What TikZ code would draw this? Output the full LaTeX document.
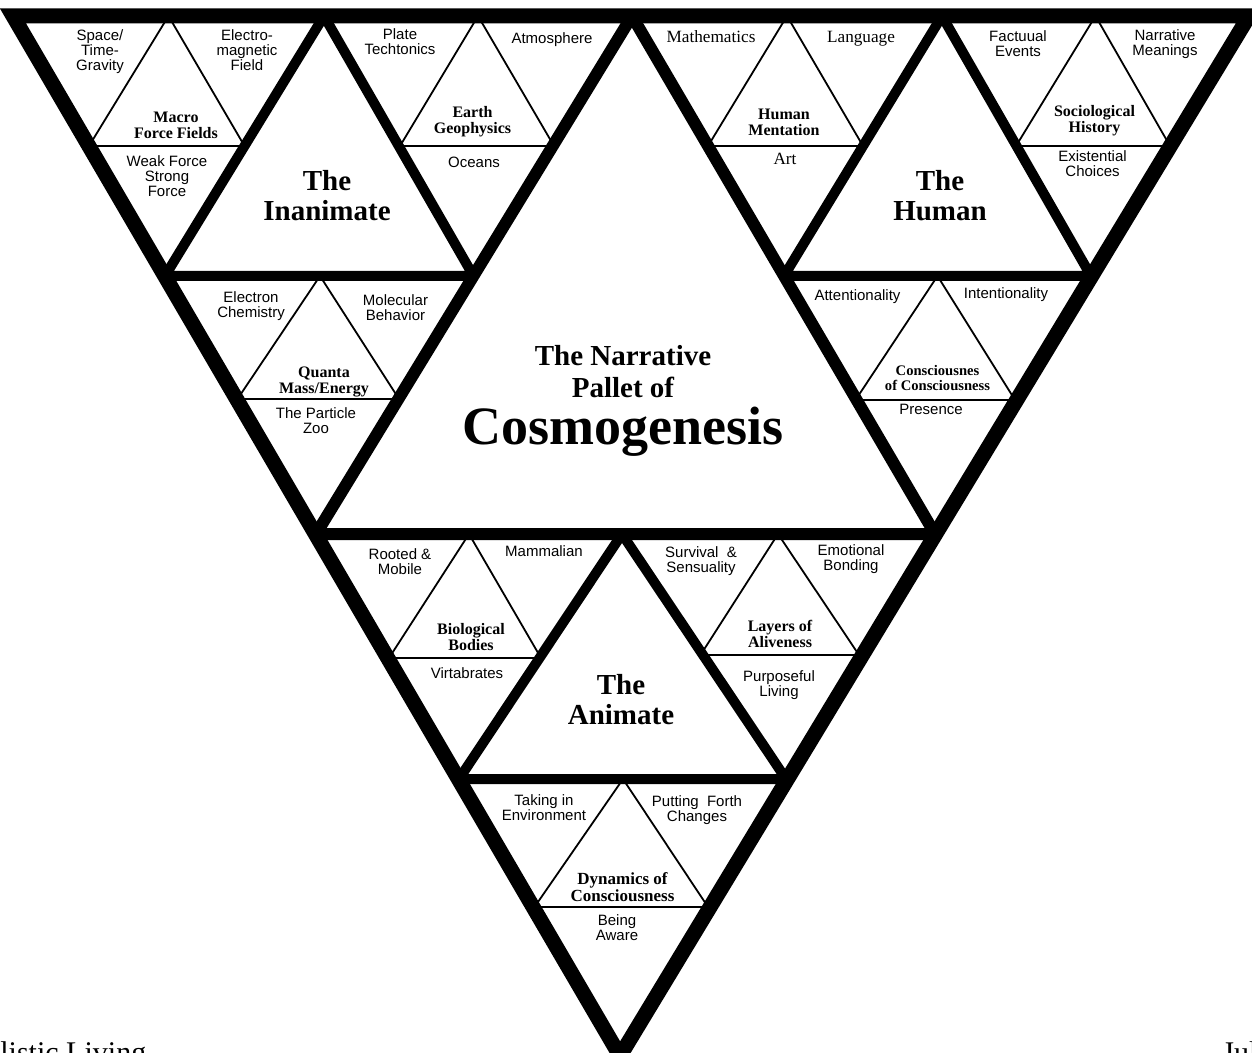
\documentclass[tikz,border=0pt]{standalone}
\usepackage{fontspec}
\setmainfont{Liberation Serif}
\newfontfamily\helv{Liberation Sans}
\usetikzlibrary{positioning}
\tikzset{
  rimline/.style={line width=7.5pt, line join=miter},
  mainline/.style={line width=6pt, line join=round},
  subline/.style={line width=5pt, line join=round},
  fineline/.style={line width=0.9pt, line join=round},
  leaf/.style={font=\helv\fontsize{7.5}{7.5}\selectfont, align=center, inner sep=0pt},
  leafserif/.style={font=\fontsize{8.6}{9}\selectfont, inner sep=0pt, anchor=base},
  hub/.style={font=\bfseries\fontsize{8}{8}\selectfont, align=center, inner sep=0pt},
  realm/.style={font=\bfseries\fontsize{14.5}{15}\selectfont, align=center, inner sep=0pt},
}

\begin{document}
\begin{tikzpicture}[x=0.5pt, y=-0.5pt,
    titletext/.style={font=\bfseries\fontsize{14.5}{16}\selectfont, align=center, inner sep=0pt},
    marginnote/.style={font=\fontsize{15}{15}\selectfont, inner sep=0pt, anchor=base west}]
  \useasboundingbox (0,0) rectangle (1252,1053);
  % fourth level
  \draw[fineline] (168.5,16) -- (89,146) -- (244.5,146) -- cycle;
  \draw[fineline] (478,16) -- (400,146) -- (554,146) -- cycle;
  \draw[fineline] (787,16) -- (708,146) -- (863,146) -- cycle;
  \draw[fineline] (1095.5,16) -- (1016,146) -- (1170,146) -- cycle;
  \draw[fineline] (320,276) -- (237.5,399) -- (399,399) -- cycle;
  \draw[fineline] (937.5,276) -- (855.5,400) -- (1015,400) -- cycle;
  \draw[fineline] (469,534) -- (389,658) -- (541,658) -- cycle;
  \draw[fineline] (778,534) -- (700.5,655) -- (859,655) -- cycle;
  \draw[fineline] (623,779) -- (534.5,907) -- (708,907) -- cycle;
  % third level
  \draw[subline] (324,16) -- (165,276) -- (473.5,276) -- cycle;
  \draw[subline] (942,16) -- (784,276) -- (1091,276) -- cycle;
  \draw[subline] (622,534) -- (459,779) -- (786,779) -- cycle;
  % second level and rim
  \draw[mainline] (632,16) -- (316,534) -- (935,534) -- cycle;
  \draw[rimline] (13,16) -- (1249,16) -- (620,1056) -- cycle;

  % the inanimate
  \node[realm] (inanimate) at (327,196) {The\\Inanimate};
  \node[leaf] (spacetime) at (100,52) {Space/\\Time-\\Gravity};
  \node[leaf] (electro) at (247,50) {Electro-\\magnetic\\Field};
  \node[hub] (macro) at (176,125) {Macro\\Force Fields};
  \node[leaf] (weak) at (167,176) {Weak Force\\Strong\\Force};
  \node[leaf] (plate) at (400,42) {Plate\\Techtonics};
  \node[leaf] (atmos) at (552,40) {Atmosphere};
  \node[hub] (earth) at (472.5,122) {Earth\\Geophysics};
  \node[leaf] (oceans) at (474,162) {Oceans};
  \node[leaf] (electron) at (251,306) {Electron\\Chemistry};
  \node[leaf] (molecular) at (395.5,308) {Molecular\\Behavior};
  \node[hub] (quanta) at (324,382) {Quanta\\Mass/Energy};
  \node[leaf] (particle) at (316,421) {The Particle\\Zoo};

  % the human
  \node[realm] (human) at (940,196) {The\\Human};
  \node[leafserif] (maths) at (711,43) {Mathematics};
  \node[leafserif] (language) at (861,43) {Language};
  \node[hub] (mentation) at (784,122) {Human\\Mentation};
  \node[leafserif] (art) at (785,165) {Art};
  \node[leaf] (factual) at (1018,44) {Factuual\\Events};
  \node[leaf] (meanings) at (1165,44) {Narrative\\Meanings};
  \node[hub] (sociology) at (1094.5,121) {Sociological\\History};
  \node[leaf] (existential) at (1092.5,164) {Existential\\Choices};
  \node[leaf] (attention) at (857.5,297) {Attentionality};
  \node[leaf] (intention) at (1006,295) {Intentionality};
  \node[hub, font=\bfseries\fontsize{7.3}{7.5}\selectfont] (selfaware) at (937.5,378) {Consciousnes\\of Consciousness};
  \node[leaf] (presence) at (931,409) {Presence};

  % the animate
  \node[realm] (animate) at (621,700) {The\\Animate};
  \node[leaf] (rooted) at (400,562) {Rooted \&\\Mobile};
  \node[leaf] (mammal) at (544,551) {Mammalian};
  \node[hub] (biology) at (471,637) {Biological\\Bodies};
  \node[leaf] (vertebrates) at (467,673) {Virtabrates};
  \node[leaf] (survival) at (701,561) {Survival~ \&\\Sensuality};
  \node[leaf] (bonding) at (851,559) {Emotional\\Bonding};
  \node[hub] (layers) at (780,634) {Layers of\\Aliveness};
  \node[leaf] (purpose) at (779,685) {Purposeful\\Living};
  \node[leaf] (takingin) at (544,808) {Taking in\\Environment};
  \node[leaf] (putting) at (697,810) {Putting~ Forth\\Changes};
  \node[hub, font=\bfseries\fontsize{8.5}{8.5}\selectfont] (dynamics) at (622.5,887) {Dynamics of\\Consciousness};
  \node[leaf] (aware) at (617,928) {Being\\Aware};

  % centre
  \node[titletext] (pallet) at (623,372) {The Narrative\\Pallet of};
  \node[titletext, font=\bfseries\fontsize{27}{27}\selectfont, below=4pt of pallet] (cosmo) {Cosmogenesis};

  % page margins
  \node[marginnote] (holistic) at (0,1062) {listic Living};
  \node[marginnote] (month) at (1222,1062) {Jul};
\end{tikzpicture}
\end{document}
